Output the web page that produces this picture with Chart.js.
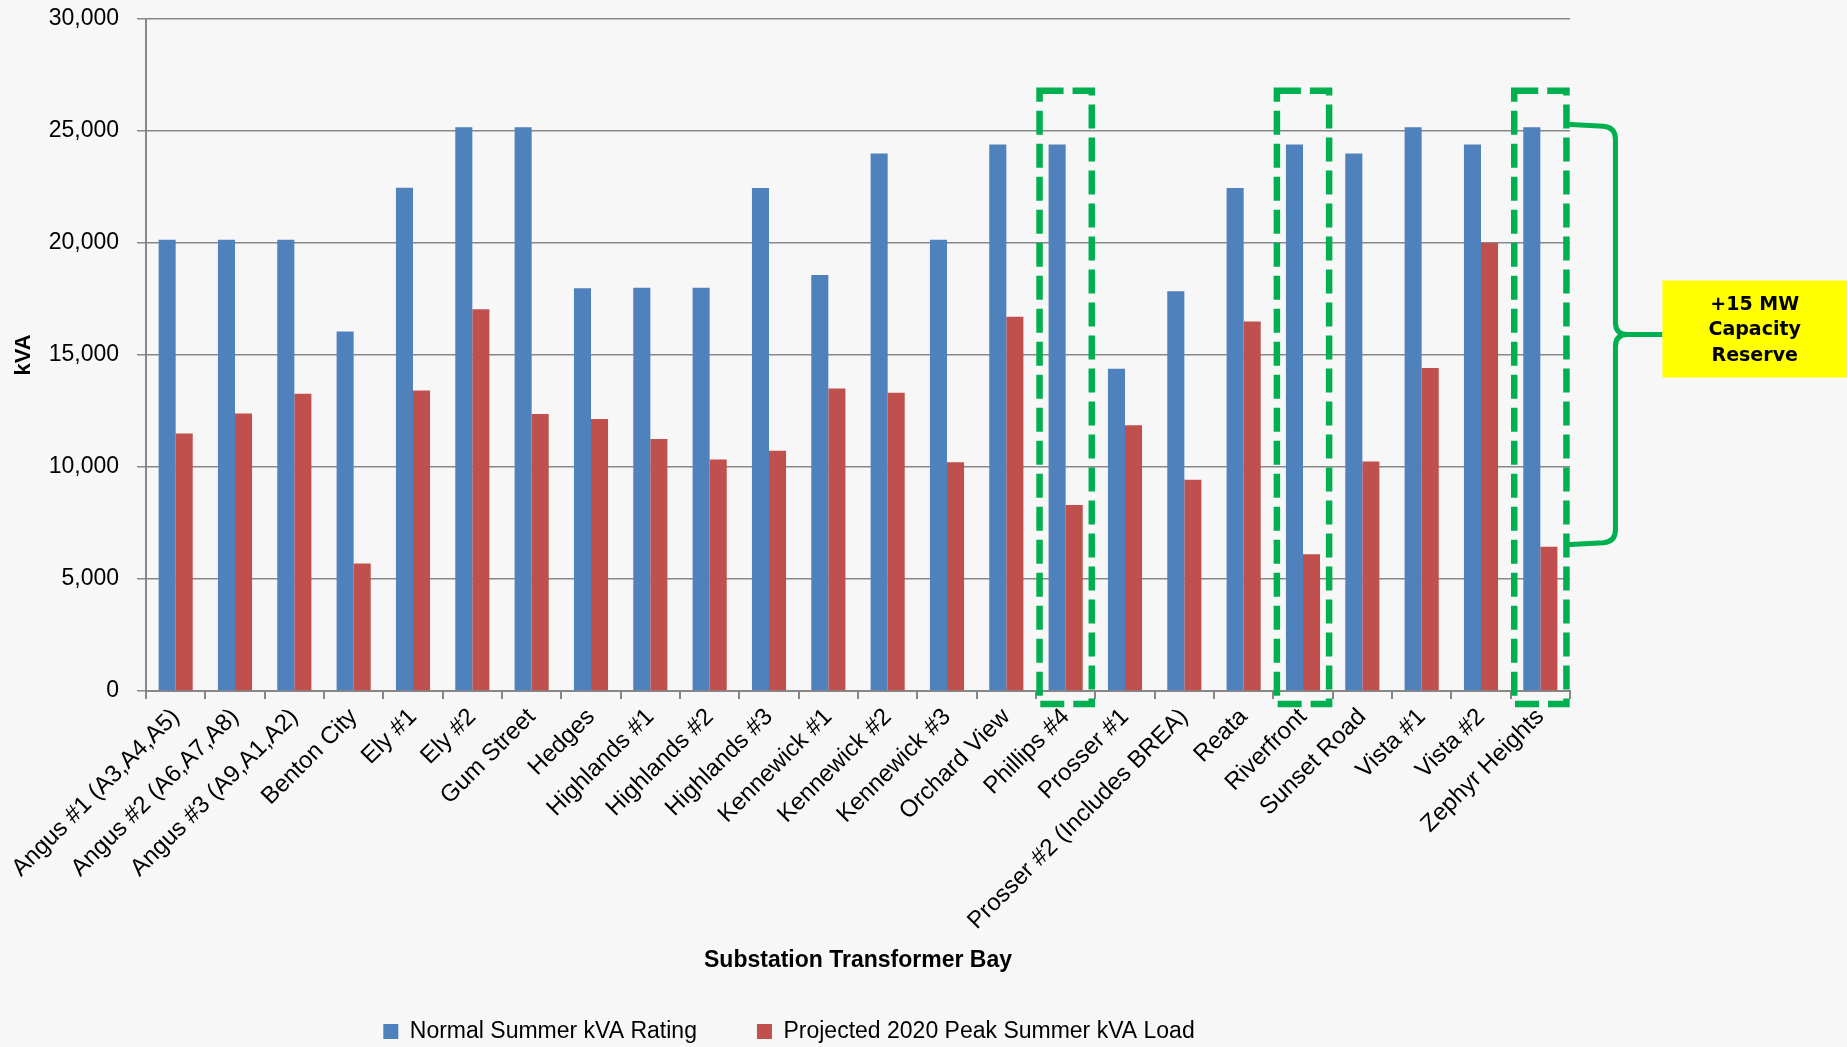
<!DOCTYPE html>
<html>
<head>
<meta charset="utf-8">
<script src="https://cdn.jsdelivr.net/npm/chart.js@4/dist/chart.umd.min.js"></script>
<style>
  html, body { margin: 0; padding: 0; background: #f7f7f7; }
  #wrap { width: 1847px; height: 1047px; }
</style>
</head>
<body>
<div id="wrap"><canvas id="chart" width="1847" height="1047"></canvas></div>
<script>
// Substation transformer bays
const categories = [
  "Angus #1 (A3,A4,A5)", "Angus #2 (A6,A7,A8)", "Angus #3 (A9,A1,A2)", "Benton City",
  "Ely #1", "Ely #2", "Gum Street", "Hedges", "Highlands #1", "Highlands #2",
  "Highlands #3", "Kennewick #1", "Kennewick #2", "Kennewick #3", "Orchard View",
  "Phillips #4", "Prosser #1", "Prosser #2 (Includes BREA)", "Reata", "Riverfront",
  "Sunset Road", "Vista #1", "Vista #2", "Zephyr Heights"
];

// Normal summer rating, kVA
const normalRating = [
  20150, 20150, 20150, 16050,
  22470, 25170, 25170, 17980, 18000, 18000,
  22460, 18570, 23990, 20140, 24400,
  24400, 14390, 17850, 22460, 24400,
  24000, 25170, 24400, 25170
];

// Projected 2020 peak summer load, kVA
const projectedLoad = [
  11500, 12390, 13270, 5690,
  13410, 17040, 12370, 12140, 11250, 10330,
  10730, 13500, 13320, 10210, 16710,
  8300, 11860, 9430, 16500, 6100,
  10240, 14420, 20000, 6440
];

const seriesNames = ["Normal Summer kVA Rating", "Projected 2020 Peak Summer kVA Load"];
const yTicks = [0, 5000, 10000, 15000, 20000, 25000, 30000];

// Bays with spare capacity, outlined in green
const reserveBays = ["Phillips #4", "Riverfront", "Zephyr Heights"];
const reserveText = ["+15 MW", "Capacity", "Reserve"];

const baseFont = "'Liberation Sans', Arial, sans-serif";
const axisGrey = '#878787';

// Dashed outlines, brace and callout box
const reservePlugin = {
  id: 'reserveMarkers',
  afterDraw(chart) {
    const { ctx, scales: { x, y } } = chart;
    const cw = x.width / categories.length;
    const green = '#00b050';
    ctx.save();

    // dashed outlines
    ctx.strokeStyle = green;
    ctx.lineWidth = 6.5;
    ctx.lineJoin = 'miter';
    ctx.setLineDash([24, 9]);
    let lastRight = 0, lastIdx = 0;
    reserveBays.forEach(name => {
      const i = categories.indexOf(name);
      const cx = x.getPixelForValue(i);
      const left = cx - cw * 0.44, right = cx + cw * 0.44;
      const top = y.getPixelForValue(26800);
      const bottom = y.getPixelForValue(0) + 13;
      ctx.strokeRect(left, top, right - left, bottom - top);
      lastRight = right; lastIdx = i;
    });

    // brace spanning rating to load of the last outlined bay
    ctx.setLineDash([]);
    ctx.lineWidth = 5;
    ctx.lineCap = 'butt';
    const x0 = lastRight;
    const xv = x0 + 49;
    const yTop = y.getPixelForValue(normalRating[lastIdx]) - 3;
    const yBot = y.getPixelForValue(projectedLoad[lastIdx]) - 2;
    const yMid = (yTop + yBot) / 2;
    const r = 12;
    const boxLeft = xv + 47;
    ctx.beginPath();
    ctx.moveTo(x0, yTop);
    ctx.lineTo(xv - r, yTop + 2);
    ctx.quadraticCurveTo(xv, yTop + 3, xv, yTop + r + 3);
    ctx.lineTo(xv, yMid - r);
    ctx.quadraticCurveTo(xv, yMid, xv + r, yMid);
    ctx.lineTo(boxLeft, yMid);
    ctx.moveTo(xv + r, yMid);
    ctx.quadraticCurveTo(xv, yMid, xv, yMid + r);
    ctx.lineTo(xv, yBot - r - 3);
    ctx.quadraticCurveTo(xv, yBot - 3, xv - r, yBot - 2);
    ctx.lineTo(x0, yBot);
    ctx.stroke();

    // yellow callout
    const boxTop = yMid - 54, boxH = 97;
    const boxRight = chart.width;
    ctx.fillStyle = '#ffff00';
    ctx.fillRect(boxLeft, boxTop, boxRight - boxLeft, boxH);
    ctx.fillStyle = '#000';
    ctx.font = "bold 19px 'DejaVu Sans', Verdana, sans-serif";
    ctx.textAlign = 'center';
    ctx.textBaseline = 'middle';
    const tx = (boxLeft + boxRight) / 2;
    const cy = boxTop + boxH / 2;
    reserveText.forEach((t, k) => {
      ctx.fillText(t, tx, cy - 24 + k * 25.5);
    });
    ctx.restore();
  }
};

new Chart(document.getElementById('chart'), {
  type: 'bar',
  data: {
    labels: categories,
    datasets: [
      { label: seriesNames[0], data: normalRating, backgroundColor: '#4f81bd', borderWidth: 0 },
      { label: seriesNames[1], data: projectedLoad, backgroundColor: '#c0504d', borderWidth: 0 }
    ]
  },
  options: {
    responsive: false,
    animation: false,
    devicePixelRatio: 1,
    layout: { padding: { left: 8, right: 277, top: 19, bottom: -6 } },
    datasets: { bar: { categoryPercentage: 0.575, barPercentage: 1.0 } },
    plugins: {
      tooltip: { enabled: false },
      legend: {
        position: 'bottom',
        labels: {
          color: '#000',
          font: { family: baseFont, size: 23 },
          boxWidth: 15,
          boxHeight: 15,
          padding: 60
        }
      }
    },
    scales: {
      x: {
        afterFit(scale) { scale.height = 269; },
        grid: {
          drawOnChartArea: false,
          drawTicks: true,
          offset: true,
          tickLength: 8,
          color: axisGrey,
          lineWidth: 2
        },
        border: { display: true, color: axisGrey, width: 2 },
        ticks: {
          autoSkip: false,
          maxRotation: 45,
          minRotation: 45,
          padding: 4,
          color: '#000',
          font: { family: baseFont, size: 24 }
        },
        title: {
          display: true,
          text: 'Substation Transformer Bay',
          color: '#000',
          font: { family: baseFont, size: 23, weight: 'bold' },
          padding: { top: 0, bottom: -14 }
        }
      },
      y: {
        min: 0,
        max: 30000,
        afterFit(scale) {
          scale.width = 138;
          scale.paddingTop = 10;
          scale.paddingBottom = 10;
        },
        afterBuildTicks(scale) { scale.ticks = yTicks.map(v => ({ value: v })); },
        grid: {
          color: axisGrey,
          lineWidth: 1.5,
          tickLength: 9,
          drawTicks: true
        },
        border: { display: true, color: axisGrey, width: 2 },
        ticks: {
          padding: 18,
          color: '#000',
          font: { family: baseFont, size: 23 },
          callback: v => v.toLocaleString('en-US')
        },
        title: {
          display: true,
          text: 'kVA',
          color: '#000',
          font: { family: baseFont, size: 22, weight: 'bold' },
          padding: { top: 3, bottom: 0 }
        }
      }
    }
  },
  plugins: [reservePlugin]
});
</script>
</body>
</html>
